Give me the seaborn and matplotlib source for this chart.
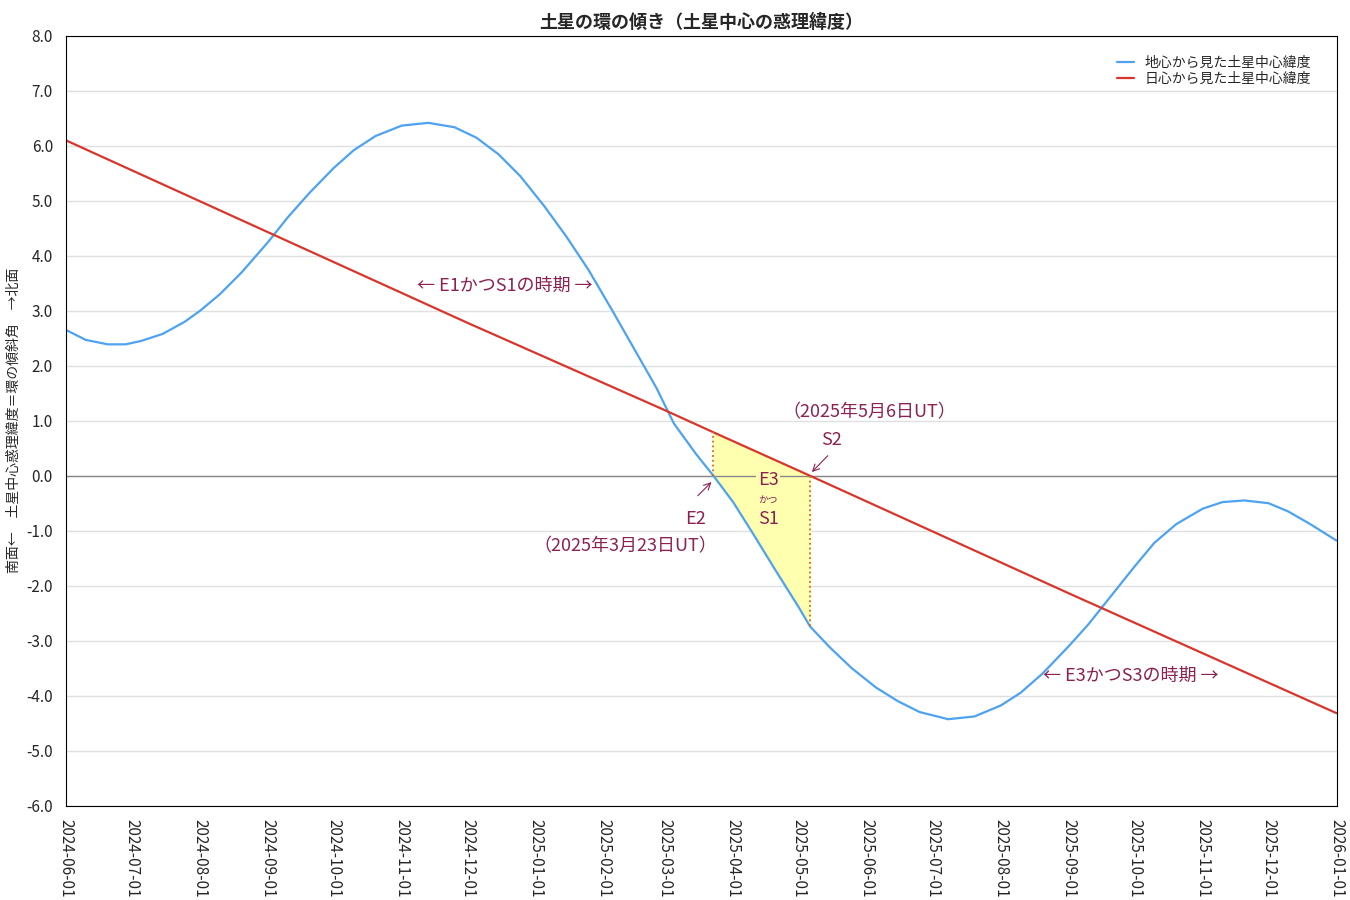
import matplotlib
matplotlib.use("Agg")
import matplotlib.pyplot as plt
import matplotlib.dates as mdates
import seaborn as sns
import pandas as pd
import numpy as np

sns.set_theme(style="whitegrid")
plt.rcParams['font.family'] = ['Noto Sans CJK JP', 'DejaVu Sans']
plt.rcParams['axes.unicode_minus'] = False

geo_dates = ["2024-06-01","2024-06-10","2024-06-20","2024-06-28","2024-07-05","2024-07-15","2024-07-25",
             "2024-08-01","2024-08-10","2024-08-20","2024-09-01","2024-09-10","2024-09-20","2024-10-01",
             "2024-10-10","2024-10-20","2024-11-01","2024-11-13","2024-11-25","2024-12-05","2024-12-15",
             "2024-12-25","2025-01-05","2025-01-15","2025-01-25","2025-02-05","2025-02-15","2025-02-25",
             "2025-03-05","2025-03-15","2025-03-23","2025-04-01","2025-04-10","2025-04-20","2025-05-01",
             "2025-05-06","2025-05-15","2025-05-25","2025-06-05","2025-06-15","2025-06-25","2025-07-08",
             "2025-07-20","2025-08-01","2025-08-10","2025-08-20","2025-09-01","2025-09-10","2025-09-20",
             "2025-10-01","2025-10-10","2025-10-20","2025-11-01","2025-11-10","2025-11-20","2025-12-01",
             "2025-12-10","2025-12-20","2026-01-01"]
geo_vals = [2.65,2.47,2.39,2.39,2.45,2.58,2.8,
            3.0,3.3,3.7,4.25,4.7,5.15,5.6,
            5.92,6.18,6.37,6.42,6.34,6.15,5.85,
            5.45,4.9,4.35,3.75,3.0,2.3,1.6,
            0.95,0.4,0.0,-0.48,-1.05,-1.7,-2.4,
            -2.74,-3.12,-3.5,-3.85,-4.1,-4.3,-4.43,
            -4.38,-4.18,-3.95,-3.6,-3.1,-2.7,-2.2,
            -1.65,-1.22,-0.88,-0.6,-0.48,-0.45,-0.5,
            -0.65,-0.88,-1.18]
helio_dates = ["2024-06-01","2024-09-01","2024-12-01","2025-03-01","2025-03-23","2025-05-06","2025-09-01","2026-01-01"]
helio_vals = [6.1,4.43,2.78,1.19,0.79,0.0,-2.14,-4.32]

geo = pd.DataFrame({"date": pd.to_datetime(geo_dates), "v": geo_vals})
hel = pd.DataFrame({"date": pd.to_datetime(helio_dates), "v": helio_vals})

fig, ax = plt.subplots(figsize=(13.5, 9), dpi=100)
sns.lineplot(data=geo, x="date", y="v", ax=ax, color="#4da3f0", lw=1.6, label="地心から見た土星中心緯度")
sns.lineplot(data=hel, x="date", y="v", ax=ax, color="#d9352a", lw=1.6, label="日心から見た土星中心緯度")

m = (geo["date"] >= "2025-03-23") & (geo["date"] <= "2025-05-06")
gd = geo[m]
hnum = mdates.date2num(hel["date"])
red_at = np.interp(mdates.date2num(gd["date"]), hnum, hel["v"])
ax.fill_between(gd["date"], gd["v"], red_at, color="#ffffb0", zorder=1)
d1, d2 = pd.Timestamp("2025-03-23"), pd.Timestamp("2025-05-06")
ax.plot([d1, d1], [0, 0.79], ls=":", color="#d2691e", lw=1.3)
ax.plot([d2, d2], [-2.74, 0], ls=":", color="#d2691e", lw=1.3)
ax.axhline(0, color="#888888", lw=1, zorder=1)

pc = "#8b2252"
ax.text(pd.Timestamp("2024-12-18"), 3.45, "← E1かつS1の時期 →", color=pc, fontsize=13, ha="center", va="center")
ax.text(pd.Timestamp("2025-09-29"), -3.65, "← E3かつS3の時期 →", color=pc, fontsize=13, ha="center", va="center")
ax.text(pd.Timestamp("2025-06-02"), 1.15, "（2025年5月6日UT）", color=pc, fontsize=13, ha="center", va="center")
ax.text(pd.Timestamp("2025-05-16"), 0.65, "S2", color=pc, fontsize=13, ha="center", va="center")
ax.annotate("", xy=(d2, 0.03), xytext=(pd.Timestamp("2025-05-15"), 0.4),
            arrowprops=dict(arrowstyle="->", color=pc, lw=0.8))
ax.text(pd.Timestamp("2025-04-17"), -0.08, "E3", color=pc, fontsize=13, ha="center", va="center",
        bbox=dict(facecolor="#ffffb0", edgecolor="none", pad=1))
ax.text(pd.Timestamp("2025-04-17"), -0.45, "かつ", color=pc, fontsize=7, ha="center", va="center")
ax.text(pd.Timestamp("2025-04-17"), -0.78, "S1", color=pc, fontsize=13, ha="center", va="center")
ax.text(pd.Timestamp("2025-03-15"), -0.78, "E2", color=pc, fontsize=13, ha="center", va="center")
ax.text(pd.Timestamp("2025-02-11"), -1.28, "（2025年3月23日UT）", color=pc, fontsize=13, ha="center", va="center")
ax.annotate("", xy=(d1, -0.08), xytext=(pd.Timestamp("2025-03-15"), -0.4),
            arrowprops=dict(arrowstyle="->", color=pc, lw=0.8))

ax.set_xlim(pd.Timestamp("2024-06-01"), pd.Timestamp("2026-01-01"))
ax.set_ylim(-6, 8)
ax.set_yticks(np.arange(-6, 8.1, 1))
ax.yaxis.set_major_formatter(matplotlib.ticker.FormatStrFormatter("%.1f"))
ax.xaxis.set_major_locator(mdates.MonthLocator())
ax.xaxis.set_major_formatter(mdates.DateFormatter("%Y-%m-%d"))
plt.setp(ax.get_xticklabels(), rotation=270, ha="center", va="top")
ax.tick_params(labelsize=11)
ax.grid(axis="x", visible=False)
ax.grid(axis="y", color="#e0e0e0")
for s in ax.spines.values():
    s.set_color("black"); s.set_linewidth(0.8)
ax.set_xlabel("")
ax.set_ylabel("南面←　土星中心惑理緯度＝環の傾斜角　→北面", fontsize=10)
ax.set_title("土星の環の傾き（土星中心の惑理緯度）", fontsize=13, fontweight="bold")
ax.legend(loc="upper right", frameon=False, fontsize=10, handlelength=1.2, labelspacing=0.1,
          bbox_to_anchor=(0.99, 0.99))
fig.subplots_adjust(left=0.049, right=0.99, top=0.96, bottom=0.105)
fig.savefig("out.png")
